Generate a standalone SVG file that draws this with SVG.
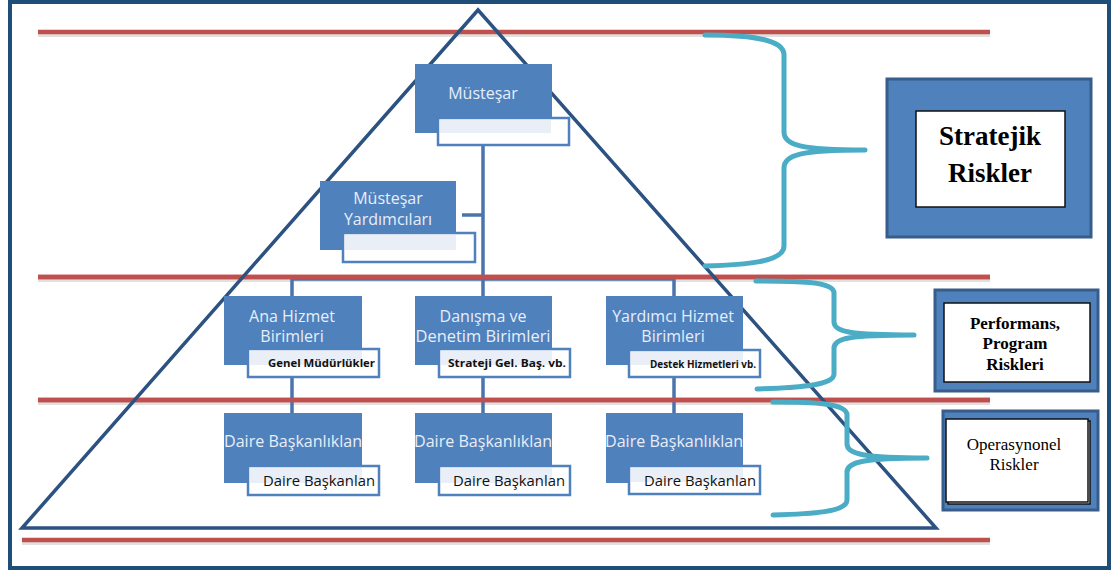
<svg xmlns="http://www.w3.org/2000/svg" width="1113" height="571" viewBox="0 0 1113 571">
<style>
.frame{fill:#fff;stroke:#1f4e79;stroke-width:4}
.red{stroke:#c0504d;stroke-width:4.5;fill:none}
.redsh{stroke:#000;stroke-opacity:0.12;stroke-width:4;fill:none}
.tri{fill:none;stroke:#2c5281;stroke-width:3.5;stroke-linejoin:miter}
.conn{stroke:#4a74ad;stroke-width:3.5;fill:none}
.nb{fill:#4f81bd}
.sb{fill:#fff;stroke:#4f81bd;stroke-width:2.5}
.sbi{fill:#e9eef7}
.nt{font-family:"Open Sans","Noto Sans",sans-serif;font-size:16px;fill:#e8eef8;text-anchor:middle}
.st{font-family:"Open Sans","Noto Sans",sans-serif;fill:#111}
.brace{fill:none;stroke:#4bacc6;stroke-width:5;stroke-linecap:round;stroke-linejoin:round}
.rb{fill:#4f81bd;stroke:#385d8a;stroke-width:3}
.rw{fill:#fff;stroke:#111;stroke-width:1.5}
.rt{font-family:"Liberation Serif","DejaVu Serif",serif;fill:#000;text-anchor:middle}
</style>
<rect class="frame" x="10" y="2" width="1099" height="566"/>

<g id="red-lines">
<line class="redsh" x1="38" y1="35" x2="990" y2="35"/>
<line class="red" x1="38" y1="32" x2="990" y2="32"/>
<line class="redsh" x1="38" y1="280" x2="990" y2="280"/>
<line class="red" x1="38" y1="277" x2="990" y2="277"/>
<line class="redsh" x1="38" y1="403" x2="990" y2="403"/>
<line class="red" x1="38" y1="400" x2="990" y2="400"/>
<line class="redsh" x1="22" y1="543" x2="990" y2="543"/>
<line class="red" x1="22" y1="540" x2="990" y2="540"/>
</g>

<g id="connectors">
<line class="conn" x1="483" y1="145" x2="483" y2="296"/>
<line class="conn" x1="462" y1="215" x2="483" y2="215"/>
<line class="conn" x1="292" y1="279" x2="674" y2="279"/>
<line class="conn" x1="292" y1="279" x2="292" y2="296"/>
<line class="conn" x1="674" y1="279" x2="674" y2="296"/>
<line class="conn" x1="292" y1="377" x2="292" y2="413"/>
<line class="conn" x1="483" y1="377" x2="483" y2="413"/>
<line class="conn" x1="674" y1="377" x2="674" y2="413"/>
</g>
<g id="red-overlay">
<line class="red" x1="38" y1="277" x2="990" y2="277"/>
<line class="red" x1="38" y1="400" x2="990" y2="400"/>
</g>

<g id="triangle">
<polygon class="tri" points="478,10 22,528 936,528"/>
</g>

<g id="n-mustesar">
<rect class="nb" x="415" y="64" width="137" height="69"/>
<rect class="sb" x="438" y="118" width="131" height="27"/>
<rect class="sbi" x="440" y="120" width="111" height="13"/>
<text class="nt" x="483" y="99">Müsteşar</text>
</g>

<g id="n-yardimcilari">
<rect class="nb" x="320" y="181" width="136" height="69"/>
<rect class="sb" x="343" y="233" width="132" height="29"/>
<rect class="sbi" x="345" y="235" width="111" height="15"/>
<text class="nt" x="388" y="204" font-size="15.5">Müsteşar</text>
<text class="nt" x="388" y="225" font-size="15.5">Yardımcıları</text>
</g>

<g id="n-ana">
<rect class="nb" x="224" y="296" width="138" height="69"/>
<rect class="sb" x="248" y="349" width="131" height="28"/>
<rect class="sbi" x="250" y="351" width="112" height="14"/>
<text class="nt" x="292" y="322">Ana Hizmet</text>
<text class="nt" x="292" y="342">Birimleri</text>
<text class="st" x="268" y="367" font-size="11" font-weight="bold" textLength="107" lengthAdjust="spacingAndGlyphs">Genel Müdürlükler</text>
</g>

<g id="n-danisma">
<rect class="nb" x="415" y="296" width="137" height="69"/>
<rect class="sb" x="439" y="349" width="131" height="28"/>
<rect class="sbi" x="441" y="351" width="111" height="14"/>
<text class="nt" x="483" y="322">Danışma ve</text>
<text class="nt" x="483" y="342" textLength="135" lengthAdjust="spacingAndGlyphs">Denetim Birimleri</text>
<text class="st" x="448" y="367" font-size="10.5" font-weight="bold" textLength="118" lengthAdjust="spacingAndGlyphs">Strateji  Gel.  Baş. vb.</text>
</g>

<g id="n-yardimci">
<rect class="nb" x="606" y="296" width="137" height="69"/>
<rect class="sb" x="629" y="350" width="131" height="27"/>
<rect class="sbi" x="631" y="352" width="112" height="13"/>
<text class="nt" x="673" y="322">Yardımcı Hizmet</text>
<text class="nt" x="673" y="342">Birimleri</text>
<text class="st" x="650" y="368" font-size="10.5" font-weight="bold" textLength="106" lengthAdjust="spacingAndGlyphs">Destek Hizmetleri vb.</text>
</g>

<g id="n-daire1">
<rect class="nb" x="224" y="413" width="138" height="70"/>
<rect class="sb" x="248" y="466" width="131" height="29"/>
<rect class="sbi" x="250" y="468" width="112" height="15"/>
<text class="nt" x="293" y="447" textLength="138" lengthAdjust="spacingAndGlyphs">Daire Başkanlıklan</text>
<text class="st" x="263" y="486" font-size="14" textLength="112" lengthAdjust="spacingAndGlyphs">Daire Başkanlan</text>
</g>

<g id="n-daire2">
<rect class="nb" x="415" y="413" width="137" height="70"/>
<rect class="sb" x="439" y="466" width="131" height="29"/>
<rect class="sbi" x="441" y="468" width="111" height="15"/>
<text class="nt" x="483" y="447" textLength="138" lengthAdjust="spacingAndGlyphs">Daire Başkanlıklan</text>
<text class="st" x="453" y="486" font-size="14" textLength="112" lengthAdjust="spacingAndGlyphs">Daire Başkanlan</text>
</g>

<g id="n-daire3">
<rect class="nb" x="606" y="413" width="137" height="70"/>
<rect class="sb" x="629" y="466" width="131" height="28"/>
<rect class="sbi" x="631" y="468" width="112" height="14"/>
<text class="nt" x="674" y="447" textLength="138" lengthAdjust="spacingAndGlyphs">Daire Başkanlıklan</text>
<text class="st" x="644" y="486" font-size="14" textLength="112" lengthAdjust="spacingAndGlyphs">Daire Başkanlan</text>
</g>

<g id="braces">
<path class="brace" d="M705,35 C745,35 784,38 784,55 L784,132 C784,145 800,150 865,150 C800,150 784,155 784,168 L784,246 C784,262 745,265 705,266"/>
<path class="brace" d="M756,281 C795,281 834,281 834,293 L834,322 C834,332 850,335 914,335 C850,335 834,338 834,348 L834,374 C834,386 795,388 757,389"/>
<path class="brace" d="M773,402 C812,402 847,403 847,415 L847,444 C847,454 863,458 927,458 C863,458 847,462 847,472 L847,500 C847,512 812,514 773,515"/>
</g>

<g id="r-stratejik">
<rect class="rb" x="887" y="79" width="204" height="158"/>
<rect class="rw" x="916" y="111" width="149" height="96"/>
<text class="rt" x="990" y="145" font-size="27" font-weight="bold">Stratejik</text>
<text class="rt" x="990" y="182" font-size="27" font-weight="bold">Riskler</text>
</g>

<g id="r-performans">
<rect class="rb" x="935" y="290" width="163" height="101"/>
<rect class="rw" x="944" y="303" width="146" height="79"/>
<text class="rt" x="1015" y="329" font-size="17" font-weight="bold">Performans,</text>
<text class="rt" x="1015" y="349" font-size="17" font-weight="bold">Program</text>
<text class="rt" x="1015" y="370" font-size="17" font-weight="bold">Riskleri</text>
</g>

<g id="r-operasyonel">
<rect class="rb" x="943" y="411" width="155" height="99"/>
<rect x="948" y="421" width="142" height="83" fill="#fff" stroke="#111" stroke-width="1.5"/>
<rect class="rw" x="946" y="419" width="142" height="83"/>
<text class="rt" x="1014" y="450" font-size="17">Operasynonel</text>
<text class="rt" x="1014" y="470" font-size="17">Riskler</text>
</g>
</svg>
